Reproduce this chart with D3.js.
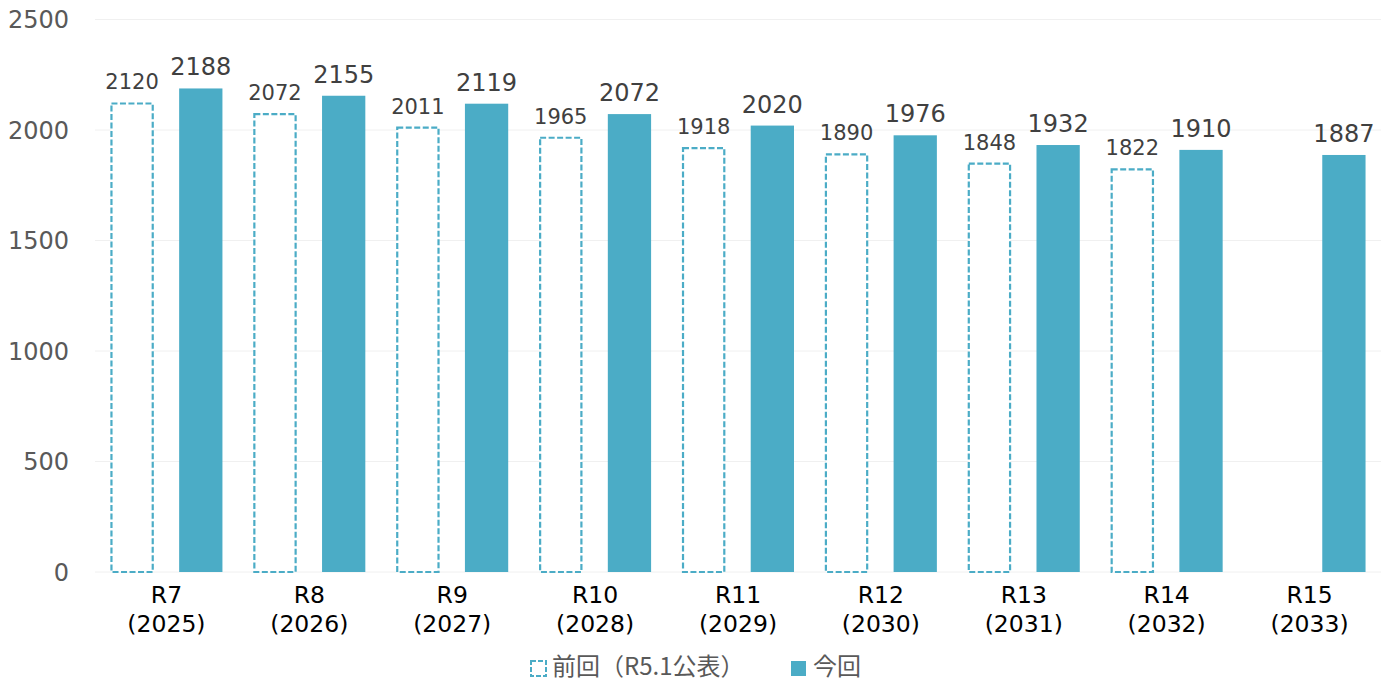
<!DOCTYPE html>
<html lang="ja">
<head>
<meta charset="UTF-8">
<title>Chart</title>
<style>
  body { margin: 0; background: #fff; }
  text { font-family: "DejaVu Sans", Verdana, sans-serif; }
  .jp { font-family: "Noto Sans CJK JP", sans-serif; }
</style>
</head>
<body>
<svg width="1386" height="682"></svg>
<script src="https://d3js.org/d3.v7.min.js"></script>
<script>
// data
var categories = ["R7", "R8", "R9", "R10", "R11", "R12", "R13", "R14", "R15"];
var years = ["2025", "2026", "2027", "2028", "2029", "2030", "2031", "2032", "2033"];
var prevValues = [2120, 2072, 2011, 1965, 1918, 1890, 1848, 1822, null];
var currValues = [2188, 2155, 2119, 2072, 2020, 1976, 1932, 1910, 1887];
var yTicks = [0, 500, 1000, 1500, 2000, 2500];
var seriesNames = ["前回（R5.1公表）", "今回"];

var color = "#4bacc6";

var svg = d3.select("svg");
// note: "top" is a reserved window prop, so use plot* names
var plotLeft = 95, plotRight = 1381, plotTop = 19.5, plotBottom = 572;

var x = d3.scaleBand().domain(categories).range([plotLeft, plotRight]);
var y = d3.scaleLinear().domain([0, 2500]).range([plotBottom, plotTop]);

// inner band for the two bars
var sub = d3.scaleBand().domain(["prev", "curr"]).range([0, x.bandwidth()])
    .paddingInner(0.37).paddingOuter(0.225);

// gridlines
svg.append("g").selectAll("line").data(yTicks).join("line")
    .attr("x1", plotLeft).attr("x2", plotRight)
    .attr("y1", d => y(d)).attr("y2", d => y(d))
    .attr("stroke", "#f0f0f0").attr("stroke-width", 1);

// y axis labels
svg.append("g").selectAll("text").data(yTicks).join("text")
    .attr("x", 69).attr("y", d => y(d))
    .attr("dy", "0.36em")
    .attr("text-anchor", "end")
    .attr("font-size", 24)
    .attr("fill", "#595959")
    .text(d => d);

var rows = categories.map((c, i) => ({ cat: c, year: years[i], prev: prevValues[i], curr: currValues[i] }));

// previous (dashed outline)
var prevRows = rows.filter(d => d.prev != null);
svg.append("g").selectAll("rect").data(prevRows).join("rect")
    .attr("x", d => x(d.cat) + sub("prev") + 1)
    .attr("y", d => y(d.prev))
    .attr("width", sub.bandwidth() - 2)
    .attr("height", d => plotBottom - y(d.prev))
    .attr("fill", "#fff")
    .attr("stroke", color)
    .attr("stroke-width", 2.2)
    .attr("stroke-dasharray", "6,2.5");

svg.append("g").selectAll("text").data(prevRows).join("text")
    .attr("x", d => x(d.cat) + sub("prev") + sub.bandwidth() / 2)
    .attr("y", d => y(d.prev) - 14)
    .attr("text-anchor", "middle")
    .attr("font-size", 21)
    .attr("fill", "#404040")
    .text(d => d.prev);

// current (solid)
svg.append("g").selectAll("rect").data(rows).join("rect")
    .attr("x", d => x(d.cat) + sub("curr"))
    .attr("y", d => y(d.curr))
    .attr("width", sub.bandwidth())
    .attr("height", d => plotBottom - y(d.curr))
    .attr("fill", color);

svg.append("g").selectAll("text").data(rows).join("text")
    .attr("x", d => x(d.cat) + sub("curr") + sub.bandwidth() / 2)
    .attr("y", d => y(d.curr) - 13)
    .attr("text-anchor", "middle")
    .attr("font-size", 24)
    .attr("fill", "#404040")
    .text(d => d.curr);

// x axis labels
var xl = svg.append("g").selectAll("text").data(rows).join("text")
    .attr("text-anchor", "middle")
    .attr("font-size", 23.5)
    .attr("fill", "#000");
xl.append("tspan")
    .attr("x", d => x(d.cat) + x.bandwidth() / 2)
    .attr("y", 603)
    .text(d => d.cat);
xl.append("tspan")
    .attr("x", d => x(d.cat) + x.bandwidth() / 2)
    .attr("y", 632)
    .text(d => "(" + d.year + ")");

// legend
var lg = svg.append("g");
lg.append("rect")
    .attr("x", 531).attr("y", 661).attr("width", 15).attr("height", 15)
    .attr("fill", "#fff").attr("stroke", color).attr("stroke-width", 2)
    .attr("stroke-dasharray", "5,2");
lg.append("text").attr("class", "jp")
    .attr("x", 552).attr("y", 675)
    .attr("font-size", 24).attr("fill", "#595959")
    .text(seriesNames[0]);
lg.append("rect")
    .attr("x", 791).attr("y", 661).attr("width", 15).attr("height", 15)
    .attr("fill", color);
lg.append("text").attr("class", "jp")
    .attr("x", 813).attr("y", 675)
    .attr("font-size", 24).attr("fill", "#595959")
    .text(seriesNames[1]);
</script>
</body>
</html>
